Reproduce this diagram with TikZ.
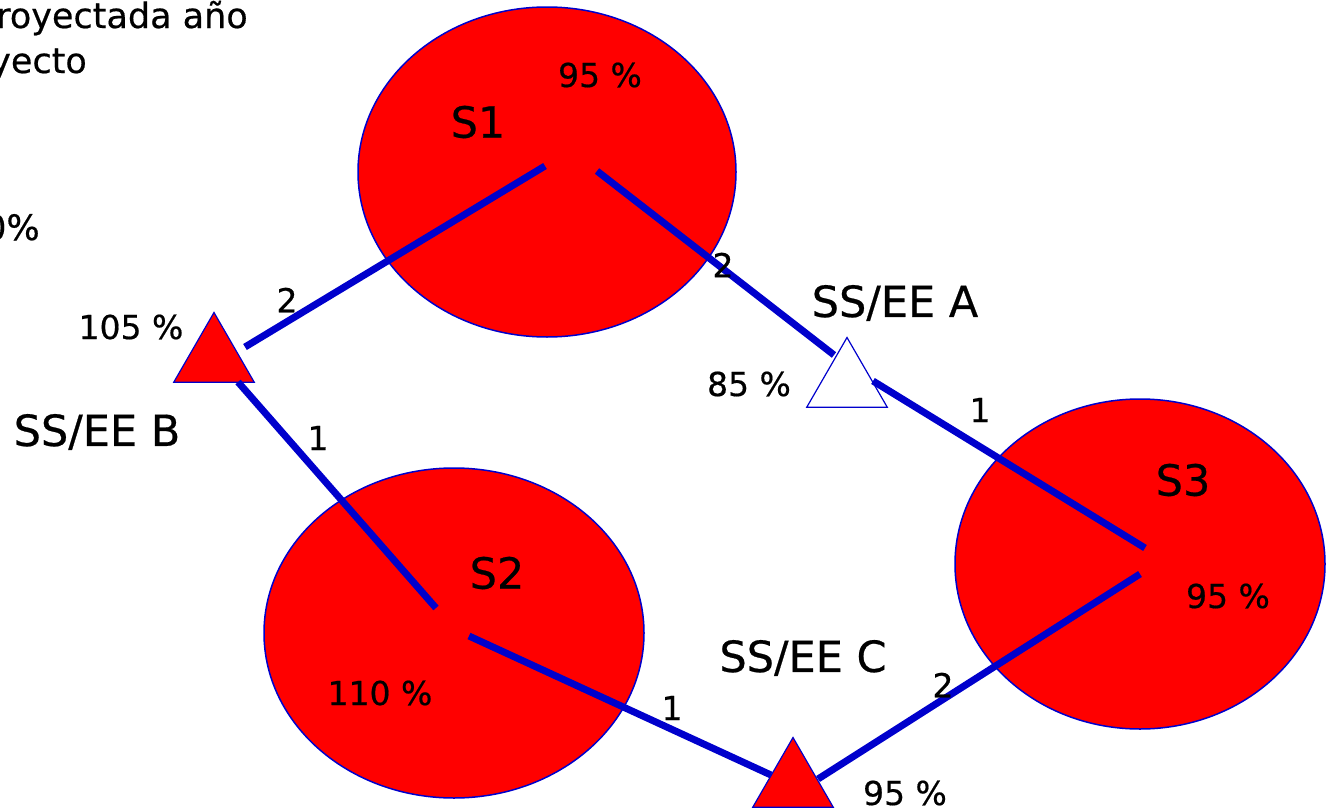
\documentclass[tikz,border=0pt]{standalone}
\usepackage{fontspec}
\setmainfont{DejaVu Sans}[UprightFeatures={FakeBold=0.5}]
\usetikzlibrary{shapes.geometric}
\definecolor{linkblue}{RGB}{0,0,204}

\begin{document}
\begin{tikzpicture}[x=1pt,y=-1pt,
   every node/.style={font=\fontsize{33}{40}\selectfont,inner sep=0pt},
   big/.style={font=\fontsize{43}{50}\selectfont},
   sub/.style={ellipse,draw=linkblue,line width=1.5pt,fill=red},
   ssee/.style={regular polygon,regular polygon sides=3,draw=linkblue,
                line width=1.2pt,fill=red,minimum size=93pt},
   link/.style={line width=7pt,linkblue}
]
\useasboundingbox (0,0) rectangle (1328,811);

% =========== substations ============
\node[sub,minimum width=378pt,minimum height=330pt] (S1) at (547,172) {};
\node[sub,minimum width=380pt,minimum height=330pt] (S2) at (454,633) {};
\node[sub,minimum width=370pt,minimum height=330pt] (S3) at (1140,564) {};

% =========== SS/EE triangles ============
\node[ssee] (B) at (214,359) {};
\node[ssee,fill=white] (A) at (847,384) {};
\node[ssee] (C) at (793,784) {};

% ends of the lines (they stop short of the centres)
\coordinate (S1w) at (545,166);
\coordinate (S1e) at (597,171);
\coordinate (S2n) at (436,608);
\coordinate (S2e) at (469,636);
\coordinate (S3n) at (1145,548);
\coordinate (S3s) at (1140,574);
\coordinate (Bn)  at (245,347);
\coordinate (Bs)  at (238,382);
\coordinate (An)  at (834,355);
\coordinate (As)  at (873,381);
\coordinate (Cw)  at (771,775);
\coordinate (Ce)  at (818,779);

% =========== lines ============
\draw[link] (S1w) -- (Bn);
\draw[link] (S1e) -- (An);
\draw[link] (As) -- (S3n);
\draw[link] (Bs) -- (S2n);
\draw[link] (S2e) -- (Cw);
\draw[link] (Ce) -- (S3s);

% =========== labels ============
\node[big] (tS1) at (478,122) {S1};
\node[big] (tS2) at (497,573) {S2};
\node[big] (tS3) at (1183,480) {S3};
\node (pS1) at (600,75) {95 \%};
\node (pS2) at (380,693) {110 \%};
\node (pS3) at (1228,596) {95 \%};

\node[big] (tA) at (895,303) {SS/EE A};
\node[big] (tB) at (97,432) {SS/EE B};
\node[big] (tC) at (803,658) {SS/EE C};
\node (pA) at (749,384) {85 \%};
\node (pB) at (131,327) {105 \%};
\node (pC) at (905,793) {95 \%};

\node (n1) at (287,300) {2};
\node (n2) at (723,265) {2};
\node (n3) at (980,410) {1};
\node (n4) at (318,438) {1};
\node (n5) at (672,708) {1};
\node (n6) at (943,685) {2};

% heading, cut at the left edge
\node[anchor=base west,font=\fontsize{35}{42}\selectfont] (h1) at (-4,28) {royectada año};
\node[anchor=base west,font=\fontsize{35}{42}\selectfont] (h2) at (-10,73) {yecto};
\node[anchor=base west,font=\fontsize{35}{42}\selectfont] (h3) at (-16,240) {0\%};
\end{tikzpicture}
\end{document}
